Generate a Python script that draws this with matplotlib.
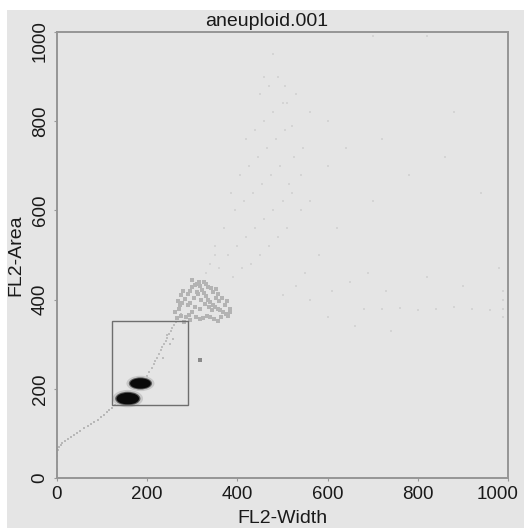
import matplotlib.pyplot as plt
from matplotlib.patches import Ellipse, Rectangle
from matplotlib.transforms import ScaledTranslation

# faint events along the diagonal from the origin to the singlets
base_x = [0, 0, 1, 2, 4, 8, 12, 18, 25, 30, 38, 45, 52, 60, 68, 75, 82, 90, 97, 104, 110, 116, 122, 128]
base_y = [20, 35, 50, 62, 70, 75, 78, 84, 88, 92, 97, 102, 106, 112, 117, 121, 126, 131, 137, 142, 148, 152, 158, 163]

# trail between the singlet peaks and the aggregate cloud
trail_x = [200, 205, 210, 214, 218, 222, 226, 230, 233, 237, 241, 245, 249, 252, 256, 260, 263, 266, 270, 274, 250, 243, 258, 235]
trail_y = [228, 238, 246, 255, 262, 270, 278, 286, 293, 300, 308, 315, 322, 330, 337, 344, 350, 356, 362, 368, 300, 320, 312, 270]

# aggregate cloud around (320, 400)
cloud_x = [262, 270, 278, 284, 290, 296, 300, 305, 310, 315, 318, 322, 326, 330, 335, 340, 345, 350,
           356, 362, 368, 374, 380, 286, 292, 300, 308, 316, 324, 332, 340, 348, 356, 364, 296, 304,
           312, 320, 328, 336, 344, 352, 280, 310, 330, 360, 300, 342, 318, 290,
           266, 274, 282, 268, 276, 372, 378, 384, 366, 358, 346, 334, 306, 294, 272, 384, 352, 326]
cloud_y = [372, 380, 392, 402, 412, 420, 428, 432, 436, 440, 430, 422, 414, 408, 400, 394, 388, 384,
           380, 376, 372, 368, 364, 360, 366, 372, 362, 356, 358, 364, 360, 356, 352, 360, 392, 404,
           412, 398, 390, 384, 376, 404, 420, 418, 436, 396, 444, 426, 378, 388,
           358, 364, 350, 396, 410, 388, 396, 380, 404, 412, 416, 428, 384, 354, 388, 372, 424, 440]

# sparse events spread up and right
sparse_x = [390, 410, 430, 450, 470, 490, 510, 360, 380, 400, 420, 440, 460, 480, 500, 520, 540,
            350, 370, 395, 415, 435, 455, 475, 495, 515, 540, 560, 385, 405, 425, 445, 465, 485,
            505, 525, 545, 420, 440, 460, 480, 500, 520, 450, 470, 490, 510, 530, 560, 600, 640,
            680, 720, 760, 800, 840, 880, 920, 960, 990, 620, 700, 780, 860, 940, 550, 580, 610,
            650, 690, 730, 820, 900, 980, 600, 660, 740, 500, 530, 560, 330, 340, 350, 600, 720,
            880, 990, 990, 990, 700, 820, 460, 480, 505]
sparse_y = [450, 470, 480, 500, 520, 540, 560, 470, 500, 520, 540, 560, 580, 600, 620, 640, 600,
            520, 560, 600, 620, 640, 660, 680, 700, 660, 680, 620, 640, 680, 700, 720, 740, 760,
            780, 720, 740, 760, 780, 800, 820, 840, 790, 860, 880, 900, 840, 860, 820, 800, 740,
            380, 378, 382, 376, 380, 384, 378, 376, 380, 560, 620, 680, 720, 640, 460, 500, 420,
            440, 460, 420, 450, 430, 470, 360, 340, 330, 410, 430, 400, 460, 480, 500, 700, 760,
            820, 400, 420, 360, 990, 992, 900, 950, 880]

# singlet peaks: centre x, centre y, width, height
peak_x = [157, 185]
peak_y = [178, 212]
peak_w = [50, 46]
peak_h = [26, 23]

# gate
gate_x = [122, 290]
gate_y = [164, 352]

ticks = [0, 200, 400, 600, 800, 1000]

fig = plt.figure(figsize=(5.24, 5.28), dpi=100, facecolor='#e5e5e5')
fig.patches.append(Rectangle((0, 1 - 10 / 528), 1, 10 / 528, transform=fig.transFigure,
                             facecolor='white', edgecolor='none'))
fig.patches.append(Rectangle((0, 0), 7 / 524, 1, transform=fig.transFigure,
                             facecolor='white', edgecolor='none'))
ax = fig.add_axes([57 / 524, 50 / 528, 451 / 524, 446 / 528])
ax.set_facecolor('#e5e5e5')

ax.scatter(base_x, base_y, s=2, marker='s', color='#b8b8b8', linewidths=0)
ax.scatter(trail_x, trail_y, s=3, marker='s', color='#bdbdbd', linewidths=0)
ax.scatter(cloud_x, cloud_y, s=5, marker='s', color='#b3b3b3', linewidths=0)
ax.scatter(sparse_x, sparse_y, s=2, marker='s', color='#d4d4d4', linewidths=0)
ax.scatter([317], [265], s=6, marker='s', color='#8a8a8a', linewidths=0)

for cx, cy, w, h in zip(peak_x, peak_y, peak_w, peak_h):
    ax.add_patch(Ellipse((cx, cy), w * 1.35, h * 1.5, facecolor='#c8c8c8', edgecolor='none'))
    ax.add_patch(Ellipse((cx, cy), w * 1.12, h * 1.18, facecolor='#5a5a5a', edgecolor='none'))
    ax.add_patch(Ellipse((cx, cy), w, h, facecolor='#0a0a0a', edgecolor='none'))

ax.add_patch(Rectangle((gate_x[0], gate_y[0]), gate_x[1] - gate_x[0], gate_y[1] - gate_y[0],
                       fill=False, edgecolor='#6e6e6e', linewidth=1))

ax.set_xlim(0, 1000)
ax.set_ylim(0, 1000)
ax.set_xticks(ticks)
ax.set_yticks(ticks)
ax.tick_params(length=2, color='#999999', labelsize=13.5, labelcolor='#1a1a1a', pad=4)
for lbl in ax.get_yticklabels():
    lbl.set_rotation(90)
    lbl.set_va('center')
for sp in ax.spines.values():
    sp.set_color('#959595')
    sp.set_linewidth(1.4)

font = 'Liberation Sans'
for lbl in ax.get_xticklabels() + ax.get_yticklabels():
    lbl.set_family(font)
# keep the end labels inside the figure, as in the original
xl = ax.get_xticklabels()[-1]
xl.set_transform(xl.get_transform() + ScaledTranslation(-10 / 100, 0, fig.dpi_scale_trans))
yl = ax.get_yticklabels()[-1]
yl.set_transform(yl.get_transform() + ScaledTranslation(0, -9 / 100, fig.dpi_scale_trans))

ax.set_title('aneuploid.001', fontsize=14, family=font, color='#1a1a1a', pad=4, x=0.465)
ax.set_xlabel('FL2-Width', fontsize=14, family=font, color='#1a1a1a', labelpad=5)
ax.set_ylabel('FL2-Area', fontsize=14, family=font, color='#1a1a1a', labelpad=5)

fig.savefig('out.png', dpi=100, facecolor=fig.get_facecolor())
